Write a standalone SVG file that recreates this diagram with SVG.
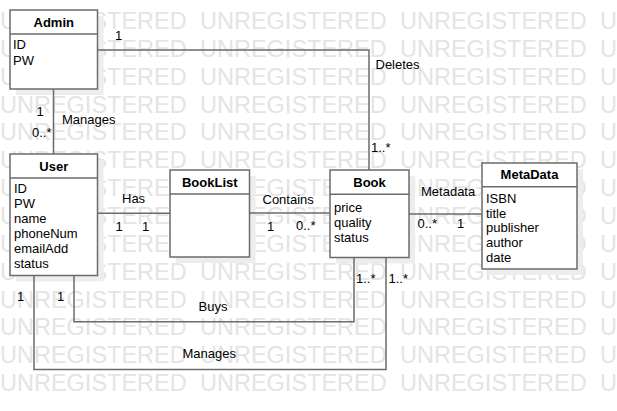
<svg xmlns="http://www.w3.org/2000/svg" xmlns:xlink="http://www.w3.org/1999/xlink" width="617" height="411" viewBox="0 0 617 411">
<style>
.wm{font-family:"Liberation Sans",Arial,sans-serif;font-size:23.5px;fill:#e4e4e4}
.shadow{fill:#ededed}
.box{fill:#fff;stroke:#6b6b6b;stroke-width:1.5}
.sep{stroke:#6b6b6b;stroke-width:1.5}
.title{font-family:"Liberation Sans",Arial,sans-serif;font-size:13px;font-weight:bold;text-anchor:middle;fill:#000}
.attr,.lbl{font-family:"Liberation Sans",Arial,sans-serif;font-size:13px;fill:#000}
.conn{fill:none;stroke:#6b6b6b;stroke-width:1.5}
</style>
<defs>
<g id="wmrow">
<text class="wm" x="0" y="0">UNREGISTERED</text>
<text class="wm" x="200" y="0">UNREGISTERED</text>
<text class="wm" x="400" y="0">UNREGISTERED</text>
<text class="wm" x="600" y="0">U</text>
</g>
</defs>
<rect width="617" height="411" fill="#fff"/>
<g id="watermark">
<use xlink:href="#wmrow" y="29"/>
<use xlink:href="#wmrow" y="56.85"/>
<use xlink:href="#wmrow" y="84.7"/>
<use xlink:href="#wmrow" y="112.55"/>
<use xlink:href="#wmrow" y="140.4"/>
<use xlink:href="#wmrow" y="168.25"/>
<use xlink:href="#wmrow" y="196.1"/>
<use xlink:href="#wmrow" y="223.95"/>
<use xlink:href="#wmrow" y="251.8"/>
<use xlink:href="#wmrow" y="279.65"/>
<use xlink:href="#wmrow" y="307.5"/>
<use xlink:href="#wmrow" y="335.35"/>
<use xlink:href="#wmrow" y="363.2"/>
<use xlink:href="#wmrow" y="391"/>
</g>
<g id="admin">
<rect class="shadow" x="16" y="16" width="87.5" height="79"/>
<rect class="box" x="10" y="10" width="87.5" height="79"/>
<line class="sep" x1="10" y1="34" x2="97.5" y2="34"/>
<text class="title" x="53.75" y="27.3">Admin</text>
<text class="attr" x="13" y="49.3">ID</text>
<text class="attr" x="13" y="65">PW</text>
</g>
<g id="user">
<rect class="shadow" x="16" y="160" width="87.5" height="121.5"/>
<rect class="box" x="10" y="154" width="87.5" height="121.5"/>
<line class="sep" x1="10" y1="178" x2="97.5" y2="178"/>
<text class="title" x="53.75" y="170.7">User</text>
<text class="attr" x="14" y="193.3">ID</text>
<text class="attr" x="14" y="208.3">PW</text>
<text class="attr" x="14" y="223.3">name</text>
<text class="attr" x="14" y="238.3">phoneNum</text>
<text class="attr" x="14" y="253.3">emailAdd</text>
<text class="attr" x="14" y="268.3">status</text>
</g>
<g id="booklist">
<rect class="shadow" x="176" y="176" width="79.5" height="87"/>
<rect class="box" x="170" y="170" width="79.5" height="87"/>
<line class="sep" x1="170" y1="194" x2="249.5" y2="194"/>
<text class="title" x="209.75" y="187.3">BookList</text>
</g>
<g id="book">
<rect class="shadow" x="336" y="176" width="79" height="87.5"/>
<rect class="box" x="330" y="170" width="79" height="87.5"/>
<line class="sep" x1="330" y1="194.3" x2="409" y2="194.3"/>
<text class="title" x="369.5" y="187.3">Book</text>
<text class="attr" x="334" y="211.7">price</text>
<text class="attr" x="334" y="226.7">quality</text>
<text class="attr" x="334" y="241.7">status</text>
</g>
<g id="metadata">
<rect class="shadow" x="488" y="169" width="95" height="106"/>
<rect class="box" x="482" y="163" width="95" height="106"/>
<line class="sep" x1="482" y1="186.7" x2="577" y2="186.7"/>
<text class="title" x="529.5" y="179.3">MetaData</text>
<text class="attr" x="486" y="202.7">ISBN</text>
<text class="attr" x="486" y="217.5">title</text>
<text class="attr" x="486" y="232.3">publisher</text>
<text class="attr" x="486" y="247">author</text>
<text class="attr" x="486" y="261.7">date</text>
</g>
<g id="connectors">
<path class="conn" d="M97.5,50 H369 V170"/>
<path class="conn" d="M53.5,89 V154"/>
<path class="conn" d="M97.5,213.3 H170"/>
<path class="conn" d="M249.5,213 H330"/>
<path class="conn" d="M409,214 H482"/>
<path class="conn" d="M74,275.5 V321.7 H354 V257.5"/>
<path class="conn" d="M34,275.5 V369.5 H386 V257.5"/>
<text class="lbl" x="115" y="40">1</text>
<text class="lbl" x="375.5" y="69">Deletes</text>
<text class="lbl" x="371" y="151.5">1..*</text>
<text class="lbl" x="36.5" y="116">1</text>
<text class="lbl" x="62" y="124">Manages</text>
<text class="lbl" x="32" y="136.5">0..*</text>
<text class="lbl" x="122" y="203">Has</text>
<text class="lbl" x="115.5" y="230.5">1</text>
<text class="lbl" x="142" y="230.5">1</text>
<text class="lbl" x="262.5" y="203.5">Contains</text>
<text class="lbl" x="267" y="230.5">1</text>
<text class="lbl" x="296" y="230">0..*</text>
<text class="lbl" x="421" y="196">Metadata</text>
<text class="lbl" x="417.5" y="227.5">0..*</text>
<text class="lbl" x="457" y="227.5">1</text>
<text class="lbl" x="356" y="282.5">1..*</text>
<text class="lbl" x="388.5" y="282.5">1..*</text>
<text class="lbl" x="17" y="300.5">1</text>
<text class="lbl" x="57" y="300.5">1</text>
<text class="lbl" x="198.5" y="310.5">Buys</text>
<text class="lbl" x="182.5" y="358">Manages</text>
</g>
</svg>
